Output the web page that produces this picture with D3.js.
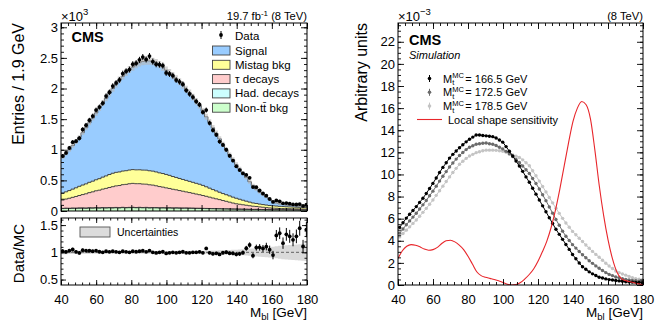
<!DOCTYPE html>
<html>
<head>
<meta charset="utf-8">
<script src="https://cdn.jsdelivr.net/npm/d3@7"></script>
<style>
body { margin: 0; background: #fff; }
svg { font-family: "Liberation Sans", Arial, Helvetica, sans-serif; }
</style>
</head>
<body>
<script>
// binning of the M_bl histograms (GeV)
const binLow = 40, binWidth = 1.9, nBins = 74;

// left panel, stacked MC in units of 10^3 entries per bin
const nonTT = [0.040,0.042,0.041,0.044,0.043,0.045,0.046,0.044,0.048,0.047,
  0.050,0.048,0.051,0.049,0.052,0.050,0.053,0.051,0.055,0.052,
  0.054,0.056,0.053,0.055,0.052,0.054,0.050,0.052,0.051,0.049,
  0.050,0.048,0.049,0.047,0.048,0.046,0.045,0.046,0.044,0.043,
  0.042,0.041,0.040,0.039,0.038,0.037,0.036,0.035,0.034,0.033,
  0.032,0.031,0.030,0.029,0.028,0.027,0.026,0.025,0.025,0.024,
  0.023,0.022,0.021,0.020,0.020,0.019,0.019,0.018,0.018,0.017,
  0.017,0.016,0.016,0.015];
const hadDecays = [0.003,0.004,0.004,0.003,0.004,0.005,0.004,0.004,0.005,0.004,
  0.005,0.004,0.005,0.005,0.004,0.005,0.005,0.004,0.005,0.005,
  0.005,0.005,0.004,0.005,0.005,0.005,0.004,0.005,0.005,0.004,
  0.004,0.005,0.004,0.004,0.004,0.004,0.004,0.003,0.004,0.004,
  0.003,0.004,0.003,0.003,0.003,0.003,0.003,0.003,0.002,0.003,
  0.002,0.002,0.002,0.002,0.002,0.002,0.002,0.001,0.002,0.001,
  0.001,0.001,0.001,0.001,0.001,0.001,0.001,0.001,0.001,0.001,
  0.001,0.001,0.001,0.001];
const tauDecays = [0.136,0.149,0.163,0.176,0.190,0.203,0.218,0.233,0.247,0.262,
  0.275,0.288,0.301,0.315,0.328,0.342,0.352,0.361,0.370,0.378,
  0.386,0.390,0.389,0.386,0.383,0.379,0.374,0.366,0.356,0.346,
  0.336,0.325,0.315,0.304,0.294,0.284,0.274,0.263,0.253,0.242,
  0.232,0.221,0.210,0.198,0.185,0.172,0.160,0.148,0.135,0.122,
  0.110,0.097,0.086,0.079,0.072,0.065,0.058,0.052,0.047,0.042,
  0.037,0.032,0.028,0.025,0.023,0.021,0.020,0.019,0.018,0.017,
  0.016,0.016,0.015,0.015];
const mistagBkg = [0.110,0.118,0.126,0.134,0.142,0.150,0.156,0.162,0.168,0.174,
  0.180,0.188,0.196,0.204,0.212,0.219,0.221,0.222,0.222,0.223,
  0.224,0.225,0.226,0.227,0.228,0.229,0.229,0.228,0.226,0.224,
  0.222,0.219,0.214,0.208,0.202,0.197,0.192,0.188,0.183,0.179,
  0.175,0.171,0.165,0.156,0.147,0.138,0.129,0.120,0.114,0.108,
  0.102,0.096,0.090,0.082,0.074,0.066,0.059,0.053,0.049,0.046,
  0.044,0.042,0.040,0.039,0.037,0.035,0.033,0.031,0.030,0.029,
  0.028,0.027,0.026,0.025];
const signal = [0.590,0.627,0.666,0.712,0.751,0.798,0.856,0.917,0.973,1.033,
  1.091,1.152,1.208,1.268,1.324,1.385,1.440,1.502,1.549,1.603,
  1.642,1.675,1.718,1.748,1.773,1.784,1.793,1.790,1.783,1.767,
  1.738,1.704,1.678,1.647,1.612,1.579,1.535,1.489,1.446,1.392,
  1.337,1.283,1.211,1.143,1.076,1.009,0.941,0.873,0.803,0.733,
  0.672,0.612,0.550,0.496,0.442,0.388,0.333,0.286,0.235,0.194,
  0.162,0.130,0.097,0.072,0.051,0.041,0.034,0.028,0.025,0.023,
  0.020,0.017,0.017,0.016];
const dataCounts = [0.898,0.949,1.030,1.124,1.141,1.188,1.331,1.401,1.483,1.550,
  1.648,1.697,1.760,1.877,1.939,2.040,2.091,2.140,2.244,2.283,
  2.310,2.397,2.414,2.468,2.513,2.475,2.530,2.440,2.396,2.390,
  2.374,2.254,2.237,2.210,2.138,2.110,2.071,1.970,1.911,1.860,
  1.790,1.737,1.614,1.648,1.436,1.319,1.245,1.133,1.079,1.000,
  0.902,0.823,0.730,0.669,0.614,0.589,0.542,0.391,0.389,0.335,
  0.286,0.251,0.196,0.149,0.173,0.158,0.125,0.129,0.119,0.107,
  0.106,0.111,0.083,0.102];
// relative MC uncertainty per bin
const uncRel = [0.035,0.034,0.033,0.032,0.031,0.030,0.030,0.029,0.029,0.028,
  0.028,0.027,0.027,0.027,0.026,0.026,0.026,0.026,0.025,0.025,
  0.025,0.025,0.025,0.025,0.025,0.025,0.025,0.025,0.025,0.025,
  0.026,0.026,0.026,0.026,0.027,0.027,0.027,0.028,0.028,0.029,
  0.030,0.030,0.031,0.032,0.033,0.034,0.035,0.036,0.038,0.040,
  0.042,0.045,0.048,0.052,0.056,0.060,0.065,0.070,0.075,0.080,
  0.085,0.090,0.095,0.100,0.110,0.120,0.125,0.130,0.135,0.140,
  0.145,0.150,0.155,0.160];

const stackKeys = ["nonTT", "had", "tau", "mistag", "signal"];
const stackColors = {nonTT: "#ccffcc", had: "#ccffff", tau: "#ffcccc", mistag: "#ffff99", signal: "#99ccff"};
const legendNames = ["Signal", "Mistag bkg", "\u03c4 decays", "Had. decays", "Non-tt\u0304 bkg"];
const legendKeys = ["signal", "mistag", "tau", "had", "nonTT"];

// right panel, normalised shapes in units of 10^-3
const mt1665 = [5.21,5.63,6.05,6.40,6.74,7.09,7.47,7.85,8.28,8.73,
  9.19,9.68,10.18,10.64,11.06,11.48,11.82,12.12,12.42,12.69,
  12.95,13.19,13.38,13.57,13.57,13.53,13.49,13.46,13.42,13.30,
  13.11,12.92,12.52,12.10,11.67,11.21,10.76,10.28,9.78,9.29,
  8.75,8.22,7.69,7.16,6.63,6.09,5.56,5.04,4.58,4.13,
  3.67,3.22,2.76,2.37,1.99,1.65,1.42,1.19,1.01,0.86,
  0.70,0.63,0.55,0.49,0.45,0.41,0.37,0.34,0.30,0.28,
  0.26,0.24,0.22,0.20];
const mt1725 = [4.69,5.07,5.45,5.80,6.14,6.49,6.87,7.25,7.65,8.07,
  8.49,8.94,9.40,9.84,10.26,10.68,11.04,11.39,11.72,11.99,
  12.25,12.46,12.59,12.73,12.78,12.82,12.84,12.78,12.73,12.62,
  12.46,12.31,12.09,11.86,11.62,11.36,11.09,10.77,10.43,10.09,
  9.63,9.18,8.69,8.16,7.63,7.06,6.50,5.93,5.40,4.87,
  4.41,4.03,3.65,3.34,3.03,2.74,2.47,2.20,1.96,1.73,
  1.51,1.31,1.12,0.96,0.85,0.73,0.65,0.57,0.50,0.46,
  0.42,0.38,0.35,0.31];
const mt1785 = [4.35,4.66,4.96,5.26,5.57,5.88,6.22,6.57,6.93,7.31,
  7.69,8.11,8.53,8.94,9.36,9.78,10.17,10.55,10.92,11.19,
  11.45,11.67,11.82,11.97,12.06,12.14,12.20,12.20,12.20,12.18,
  12.14,12.10,12.00,11.88,11.77,11.65,11.54,11.32,11.06,10.79,
  10.33,9.88,9.40,8.91,8.42,7.92,7.43,6.94,6.48,6.03,
  5.61,5.23,4.85,4.54,4.23,3.93,3.62,3.32,3.04,2.77,
  2.51,2.24,1.97,1.72,1.49,1.27,1.12,1.00,0.89,0.78,
  0.66,0.57,0.52,0.47];
const massLabels = ["166.5", "172.5", "178.5"];
const massColors = ["#000000", "#6b6b6b", "#c4c4c4"];

// local shape sensitivity (red curve)
const sensX = [40,42.5,45,47.5,50,52.5,55,57.5,60,62.5,65,67.5,70,72.5,75,77.5,80,82.5,85,87.5,
  90,92.5,95,97.5,100,102.5,105,107.5,110,112.5,115,117.5,120,122.5,125,127.5,130,132.5,135,137.5,
  140,142.5,145,147.5,150,152.5,155,157.5,160,162.5,165,167.5,170,172.5,175,177.5,180];
const sensY = [2.4,3.1,3.5,3.65,3.6,3.45,3.25,3.15,3.2,3.4,3.75,4.0,4.05,3.9,3.6,3.2,2.6,1.9,1.2,0.85,
  0.7,0.6,0.5,0.38,0.22,0.07,0.0,0.04,0.22,0.55,0.95,1.45,2.15,3.0,3.95,5.2,6.8,8.7,10.8,12.9,
  14.8,16.0,16.6,16.3,15.0,12.2,9.0,6.3,4.1,2.4,1.2,0.6,0.4,0.3,0.2,0.1,0.02];

const xTicks = [40, 60, 80, 100, 120, 140, 160, 180];

var svg = d3.select("body").append("svg")
  .attr("width", 661)
  .attr("height", 321);

const edges = d3.range(nBins + 1).map(i => binLow + i * binWidth);
const centers = d3.range(nBins).map(i => binLow + (i + 0.5) * binWidth);

// ---------- left: main stacked plot ----------
const xL = d3.scaleLinear().domain([40, 180]).range([61, 307]);
const yL = d3.scaleLinear().domain([0, 3.07]).range([211, 23]);
const yRat = d3.scaleLinear().domain([0.4, 1.63]).range([285, 218]);

svg.append("clipPath").attr("id", "clipMain")
  .append("rect").attr("x", 61).attr("y", 23).attr("width", 246).attr("height", 188);
svg.append("clipPath").attr("id", "clipRatio")
  .append("rect").attr("x", 61).attr("y", 218).attr("width", 246).attr("height", 67);
svg.append("clipPath").attr("id", "clipRight")
  .append("rect").attr("x", 398).attr("y", 23).attr("width", 245).attr("height", 262);

const rows = d3.range(nBins).map(i => ({
  nonTT: nonTT[i], had: hadDecays[i], tau: tauDecays[i], mistag: mistagBkg[i], signal: signal[i]
}));
const layers = d3.stack().keys(stackKeys)(rows);
const total = rows.map(r => stackKeys.reduce((s, k) => s + r[k], 0));

function stepPoints(lo, hi) {
  return edges.map((e, i) => {
    const j = Math.min(i, nBins - 1);
    return {x: e, y0: lo(j), y1: hi(j)};
  });
}
const stepArea = d3.area().curve(d3.curveStepAfter)
  .x(d => xL(d.x)).y0(d => yL(d.y0)).y1(d => yL(d.y1));
const stepLine = d3.line().curve(d3.curveStepAfter)
  .x(d => xL(d.x)).y(d => yL(d.y1));

var main = svg.append("g").attr("clip-path", "url(#clipMain)");
layers.forEach(layer => {
  const pts = stepPoints(j => layer[j][0], j => layer[j][1]);
  main.append("path").attr("d", stepArea(pts)).attr("fill", stackColors[layer.key]);
});
layers.forEach(layer => {
  const pts = stepPoints(j => layer[j][0], j => layer[j][1]);
  main.append("path").attr("d", stepLine(pts)).attr("fill", "none")
    .attr("stroke", "#333").attr("stroke-width", 0.9);
});
// MC uncertainty band around the stack
main.append("path")
  .attr("d", stepArea(stepPoints(j => total[j] * (1 - uncRel[j]), j => total[j] * (1 + uncRel[j]))))
  .attr("fill", "#b8b8b8").attr("opacity", 0.6);

// data points
const dataErr = dataCounts.map(v => Math.sqrt(v * 1000) / 1000);
main.selectAll(".derr").data(dataCounts).enter().append("line")
  .attr("x1", (d, i) => xL(centers[i])).attr("x2", (d, i) => xL(centers[i]))
  .attr("y1", (d, i) => yL(d - dataErr[i])).attr("y2", (d, i) => yL(d + dataErr[i]))
  .attr("stroke", "#000").attr("stroke-width", 1);
main.selectAll(".dpt").data(dataCounts).enter().append("circle")
  .attr("cx", (d, i) => xL(centers[i])).attr("cy", d => yL(d)).attr("r", 1.9).attr("fill", "#000");

// ---------- left: ratio panel ----------
var rat = svg.append("g").attr("clip-path", "url(#clipRatio)");
const ratArea = d3.area().curve(d3.curveStepAfter)
  .x(d => xL(d.x)).y0(d => yRat(d.y0)).y1(d => yRat(d.y1));
rat.append("path")
  .attr("d", ratArea(stepPoints(j => 1 - uncRel[j], j => 1 + uncRel[j])))
  .attr("fill", "#d6d6d6").attr("opacity", 0.9);
rat.append("line").attr("x1", xL(40)).attr("x2", xL(180)).attr("y1", yRat(1)).attr("y2", yRat(1))
  .attr("stroke", "#444").attr("stroke-width", 0.8).attr("stroke-dasharray", "3,2");
const ratio = dataCounts.map((d, i) => d / total[i]);
const ratioErr = dataErr.map((e, i) => e / total[i]);
rat.selectAll(".rerr").data(ratio).enter().append("line")
  .attr("x1", (d, i) => xL(centers[i])).attr("x2", (d, i) => xL(centers[i]))
  .attr("y1", (d, i) => yRat(d - ratioErr[i])).attr("y2", (d, i) => yRat(d + ratioErr[i]))
  .attr("stroke", "#000").attr("stroke-width", 1);
rat.selectAll(".rpt").data(ratio).enter().append("circle")
  .attr("cx", (d, i) => xL(centers[i])).attr("cy", d => yRat(d)).attr("r", 1.9).attr("fill", "#000");

// ---------- right panel ----------
const xR = d3.scaleLinear().domain([40, 180]).range([398, 643]);
const yR = d3.scaleLinear().domain([0, 23.7]).range([285, 23]);
var rp = svg.append("g").attr("clip-path", "url(#clipRight)");
[mt1785, mt1725, mt1665].forEach((ser, k) => {
  const col = massColors[2 - k];
  rp.append("path")
    .attr("d", d3.line().x((d, i) => xR(centers[i])).y(d => yR(d))(ser))
    .attr("fill", "none").attr("stroke", col).attr("stroke-width", 1);
  rp.selectAll(null).data(ser).enter().append("circle")
    .attr("cx", (d, i) => xR(centers[i])).attr("cy", d => yR(d)).attr("r", 1.7).attr("fill", col);
});
rp.append("path")
  .attr("d", d3.line().curve(d3.curveMonotoneX).x((d, i) => xR(sensX[i])).y(d => yR(d))(sensY))
  .attr("fill", "none").attr("stroke", "#e8262b").attr("stroke-width", 1.1);

// ---------- frames and axes ----------
function drawAxes(x, y, yMajor, yMinor, xMinor, tickLen, showXLabels, showYLabels) {
  const [xa, xb] = x.range();
  const [ya, yb] = y.range(); // ya = bottom
  const fmt = d => d;
  const g = svg.append("g");
  const parts = [
    [d3.axisBottom(x).tickValues(xTicks).tickSize(-tickLen), ya, showXLabels],
    [d3.axisBottom(x).tickValues(xMinor).tickSize(-tickLen / 2), ya, false],
    [d3.axisTop(x).tickValues(xTicks).tickSize(-tickLen), yb, false],
    [d3.axisTop(x).tickValues(xMinor).tickSize(-tickLen / 2), yb, false]
  ];
  parts.forEach(p => {
    const a = g.append("g").attr("transform", "translate(0," + p[1] + ")")
      .call(p[0].tickPadding(10).tickFormat(p[2] ? fmt : ""));
    a.select(".domain").remove();
  });
  const vparts = [
    [d3.axisLeft(y).tickValues(yMajor).tickSize(-tickLen), xa, showYLabels],
    [d3.axisLeft(y).tickValues(yMinor).tickSize(-tickLen / 2), xa, false],
    [d3.axisRight(y).tickValues(yMajor).tickSize(-tickLen), xb, false],
    [d3.axisRight(y).tickValues(yMinor).tickSize(-tickLen / 2), xb, false]
  ];
  vparts.forEach(p => {
    const a = g.append("g").attr("transform", "translate(" + p[1] + ",0)")
      .call(p[0].tickPadding(3).tickFormat(p[2] ? fmt : ""));
    a.select(".domain").remove();
  });
  g.selectAll("line").attr("stroke", "#000").attr("stroke-width", 0.9);
  g.selectAll("text").attr("font-size", 13).attr("fill", "#000")
    .attr("font-family", "'Liberation Sans', Arial, sans-serif");
  g.append("rect").attr("x", xa).attr("y", yb).attr("width", xb - xa).attr("height", ya - yb)
    .attr("fill", "none").attr("stroke", "#000").attr("stroke-width", 1);
}

const minorX = d3.range(40, 180.1, 4);
drawAxes(xL, yL, [0, 0.5, 1, 1.5, 2, 2.5, 3], d3.range(0, 3.05, 0.1), minorX, 6, false, true);
drawAxes(xL, yRat, [0.5, 1, 1.5], d3.range(0.5, 1.61, 0.1), minorX, 5, true, true);
drawAxes(xR, yR, d3.range(0, 23, 2), d3.range(0, 23.6, 0.5), minorX, 6, true, true);

// ---------- titles and texts ----------
function addText(x, y, str, size, opts) {
  const t = svg.append("text").attr("x", x).attr("y", y).attr("font-size", size).text(str);
  if (opts) Object.keys(opts).forEach(k => t.attr(k, opts[k]));
  return t;
}

// exponent labels
var e1 = addText(61, 20.5, "\u00d710", 13);
e1.append("tspan").attr("dy", -6).attr("font-size", 9.5).text("3");
var e2 = addText(398, 20.5, "\u00d710", 13);
e2.append("tspan").attr("dy", -6).attr("font-size", 9.5).text("\u22123");

// luminosity labels
var lumi = addText(307, 19.5, "19.7 fb", 11.2, {"text-anchor": "end"});
lumi.append("tspan").attr("dy", -4).attr("font-size", 8).text("-1");
lumi.append("tspan").attr("dy", 4).text(" (8 TeV)");
addText(643, 19.5, "(8 TeV)", 11.2, {"text-anchor": "end"});

// axis titles
addText(0, 0, "Entries / 1.9 GeV", 16, {"text-anchor": "end", transform: "translate(24,23) rotate(-90)"});
addText(0, 0, "Data/MC", 15, {"text-anchor": "end", transform: "translate(24,224) rotate(-90)"});
addText(0, 0, "Arbitrary units", 16, {"text-anchor": "end", transform: "translate(367,23) rotate(-90)"});
[307, 643].forEach(xr => {
  var t = addText(xr, 316.5, "M", 13.5, {"text-anchor": "end"});
  t.append("tspan").attr("dy", 3).attr("font-size", 9.5).text("bl");
  t.append("tspan").attr("dy", -3).text(" [GeV]");
});

// CMS labels
addText(71.5, 41.5, "CMS", 14.5, {"font-weight": "bold"});
addText(409, 44.5, "CMS", 14.5, {"font-weight": "bold"});
addText(409, 59, "Simulation", 11, {"font-style": "italic"});

// left legend
var leg = svg.append("g");
leg.append("line").attr("x1", 221).attr("x2", 221).attr("y1", 31).attr("y2", 39).attr("stroke", "#000");
leg.append("circle").attr("cx", 221).attr("cy", 35).attr("r", 1.9).attr("fill", "#000");
addText(235, 39.5, "Data", 11.5);
legendKeys.forEach((k, i) => {
  const yc = 50.5 + i * 14.3;
  leg.append("rect").attr("x", 212.5).attr("y", yc - 4.5).attr("width", 17.5).attr("height", 9)
    .attr("fill", stackColors[k]).attr("stroke", "#444").attr("stroke-width", 0.9);
  addText(235, yc + 4, legendNames[i], 11.5);
});

// ratio legend
svg.append("rect").attr("x", 80).attr("y", 227).attr("width", 30).attr("height", 10)
  .attr("fill", "#dcdcdc").attr("stroke", "#555").attr("stroke-width", 0.9);
addText(117, 236, "Uncertainties", 10.5);

// right legend: M_t^MC stacked sub/superscript kept in one text element
massLabels.forEach((m, i) => {
  const yc = 78.5 + i * 13.8;
  svg.append("line").attr("x1", 429.5).attr("x2", 429.5).attr("y1", yc - 3.5).attr("y2", yc + 3.5)
    .attr("stroke", massColors[i]);
  svg.append("circle").attr("cx", 429.5).attr("cy", yc).attr("r", 1.8).attr("fill", massColors[i]);
  const t = addText(443, yc + 4, "", 11);
  const tm = t.append("tspan").text("M");
  const w = tm.node().getComputedTextLength();
  const ts = t.append("tspan").attr("dy", -4.5).attr("font-size", 7.5).text("MC");
  const ws = ts.node().getComputedTextLength();
  t.append("tspan").attr("x", 443 + w).attr("dy", 7).attr("font-size", 7.5).text("t");
  t.append("tspan").attr("x", 443 + w + ws + 1.5).attr("dy", -2.5).text("= " + m + " GeV");
});
svg.append("line").attr("x1", 417).attr("x2", 442).attr("y1", 119.5).attr("y2", 119.5)
  .attr("stroke", "#e8262b").attr("stroke-width", 1.1);
addText(448, 123.5, "Local shape sensitivity", 11);
</script>
</body>
</html>
